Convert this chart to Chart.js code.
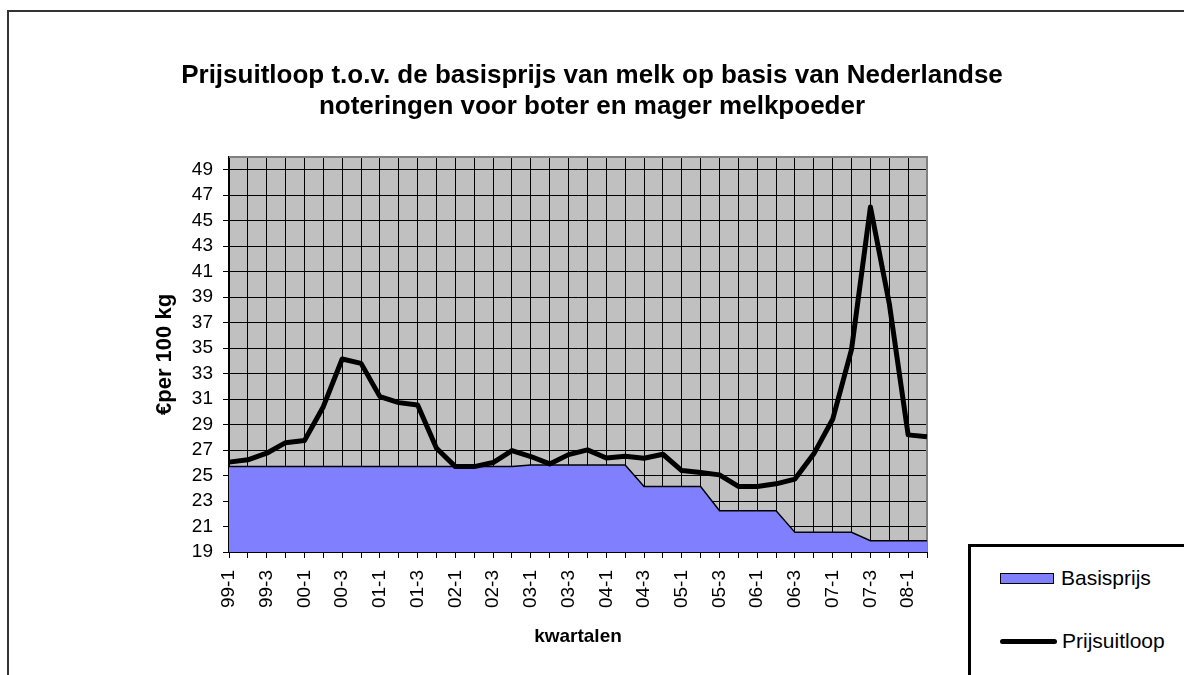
<!DOCTYPE html>
<html>
<head>
<meta charset="utf-8">
<script src="https://cdn.jsdelivr.net/npm/chart.js@4/dist/chart.umd.min.js"></script>
<style>
  body { margin: 0; background: #fff; }
  #wrap { position: relative; width: 1184px; height: 675px; overflow: hidden; }
  #frame { position: absolute; left: 7px; top: 10px; width: 1300px; height: 800px;
           border-left: 2px solid #333; border-top: 2px solid #333; }
  #chart { position: absolute; left: 0; top: 0; }
  #legend { position: absolute; left: 968px; top: 544px; width: 300px; height: 200px;
            border-left: 3px solid #000; border-top: 3px solid #000; background: #fff;
            font: 21px "Liberation Sans", Arial, sans-serif; color: #000; }
  .item { position: absolute; left: 29px; height: 24px; display: flex; align-items: center; }
  .swatch { width: 54px; height: 11px; border: 1px solid #000; box-sizing: border-box; margin-right: 7px; }
  .lineswatch { width: 57px; height: 5px; border-radius: 3px; margin-right: 5px; }
</style>
</head>
<body>
<div id="wrap">
  <div id="frame"></div>
  <canvas id="chart" width="1184" height="675"></canvas>
  <div id="legend"></div>
</div>
<script>
const quarters = [
  "99-1", "99-2", "99-3", "99-4", "00-1", "00-2", "00-3", "00-4",
  "01-1", "01-2", "01-3", "01-4", "02-1", "02-2", "02-3", "02-4",
  "03-1", "03-2", "03-3", "03-4", "04-1", "04-2", "04-3", "04-4",
  "05-1", "05-2", "05-3", "05-4", "06-1", "06-2", "06-3", "06-4",
  "07-1", "07-2", "07-3", "07-4", "08-1", "08-2",
];
const basisprijs = [
  25.7, 25.7, 25.7, 25.7, 25.7, 25.7, 25.7, 25.7,
  25.7, 25.7, 25.7, 25.7, 25.7, 25.7, 25.7, 25.7,
  25.82, 25.82, 25.82, 25.82, 25.82, 25.82, 24.14, 24.14,
  24.14, 24.14, 22.23, 22.23, 22.23, 22.23, 20.54, 20.54,
  20.54, 20.54, 19.88, 19.88, 19.88, 19.88,
];
const prijsuitloop = [
  26.05, 26.23, 26.75, 27.58, 27.74, 30.4, 34.14, 33.8,
  31.19, 30.72, 30.53, 27.14, 25.7, 25.7, 26.02, 26.96,
  26.49, 25.91, 26.64, 27.01, 26.38, 26.52, 26.36, 26.67,
  25.39, 25.23, 25.05, 24.14, 24.14, 24.35, 24.72, 26.7,
  29.41, 34.9, 46.06, 38.5, 28.19, 28.05,
];
const yTicks = [19, 21, 23, 25, 27, 29, 31, 33, 35, 37, 39, 41, 43, 45, 47, 49];

const titleLines = [
  "Prijsuitloop t.o.v. de basisprijs van melk op basis van Nederlandse",
  "noteringen voor boter en mager melkpoeder",
];

Chart.defaults.font.family = '"Liberation Sans", Arial, sans-serif';
Chart.defaults.color = "#000";

// grey plot background + grey top/right edge like the Excel plot area
const plotArea = {
  id: "plotArea",
  beforeDraw(chart) {
    const { ctx, chartArea: a } = chart;
    ctx.save();
    ctx.fillStyle = "#c0c0c0";
    ctx.fillRect(a.left, a.top, a.right - a.left, a.bottom - a.top);
    ctx.restore();
  },
  beforeDatasetsDraw(chart) {
    const { ctx, chartArea: a } = chart;
    ctx.save();
    ctx.strokeStyle = "#808080";
    ctx.lineWidth = 2;
    ctx.beginPath();
    ctx.moveTo(a.left, a.top);
    ctx.lineTo(a.right, a.top);
    ctx.lineTo(a.right, a.bottom);
    ctx.stroke();
    ctx.restore();
  },
};

const chart = new Chart(document.getElementById("chart"), {
  type: "line",
  data: {
    labels: quarters,
    datasets: [
      {
        label: "Basisprijs",
        data: basisprijs,
        fill: "start",
        backgroundColor: "#8080ff",
        borderColor: "#000",
        borderWidth: 1.5,
        pointRadius: 0,
        tension: 0,
        order: 2,
      },
      {
        label: "Prijsuitloop",
        data: prijsuitloop,
        fill: false,
        borderColor: "#000",
        borderWidth: 5,
        borderJoinStyle: "round",
        pointRadius: 0,
        tension: 0,
        order: 1,
      },
    ],
  },
  options: {
    responsive: false,
    animation: false,
    layout: { padding: 0 },
    plugins: {
      legend: { display: false },
      tooltip: { enabled: false },
      title: {
        display: true,
        text: titleLines,
        color: "#000",
        font: { size: 26, weight: "bold", lineHeight: 1.19 },
        padding: { top: 60, bottom: 35 },
      },
    },
    scales: {
      x: {
        type: "category",
        offset: false,
        grid: { color: "#000", lineWidth: 1, offset: false, tickLength: 6 },
        border: { color: "#000", width: 2 },
        ticks: {
          autoSkip: false,
          minRotation: 90,
          maxRotation: 90,
          padding: 12,
          font: { size: 19 },
          callback: (v, i) => (i % 2 === 0 ? quarters[i] : ""),
        },
        title: {
          display: true,
          text: "kwartalen",
          font: { size: 19, weight: "bold" },
          padding: { top: 0, bottom: 27 },
        },
        afterFit: (s) => { s.height = 123; },
      },
      y: {
        min: 19,
        max: 50,
        grid: { color: "#000", lineWidth: 1, tickLength: 6 },
        border: { color: "#000", width: 1.5 },
        ticks: { padding: 10, font: { size: 19 } },
        afterBuildTicks: (s) => { s.ticks = yTicks.map((v) => ({ value: v })); },
        title: {
          display: true,
          text: "€per 100 kg",
          font: { size: 22, weight: "bold" },
          padding: { top: 152, bottom: 0 },
        },
        afterFit: (s) => { s.width = 229; },
      },
      spacer: {
        type: "linear",
        position: "right",
        grid: { display: false },
        border: { display: false },
        ticks: { display: false },
        afterFit: (s) => { s.width = 257; },
      },
    },
  },
  plugins: [plotArea],
});

// legend box in the lower right, as in the reference
const legend = document.getElementById("legend");
const rows = [22, 85];
chart.data.datasets.forEach((ds, i) => {
  const item = document.createElement("div");
  item.className = "item";
  item.style.top = rows[i] - 3 + "px";
  const sw = document.createElement("span");
  if (ds.fill) {
    sw.className = "swatch";
    sw.style.background = ds.backgroundColor;
  } else {
    sw.className = "lineswatch";
    sw.style.background = ds.borderColor;
  }
  item.appendChild(sw);
  item.appendChild(document.createTextNode(ds.label));
  legend.appendChild(item);
});
</script>
</body>
</html>
